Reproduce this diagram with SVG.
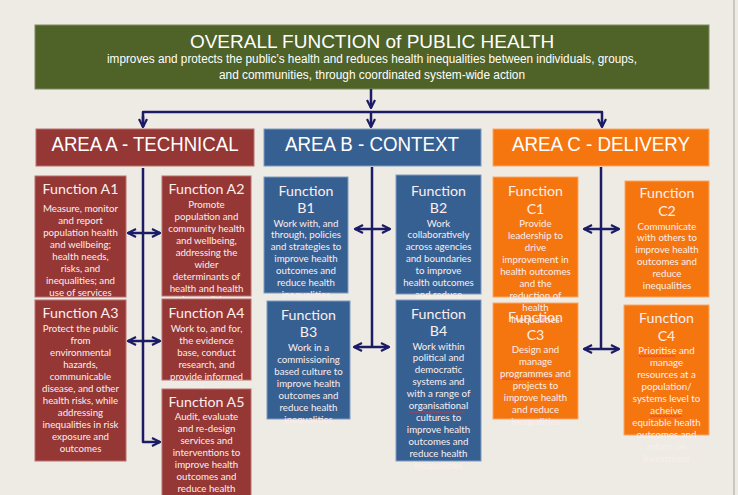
<svg xmlns="http://www.w3.org/2000/svg" width="738" height="495" viewBox="0 0 738 495">
  <defs>
    <marker id="chev" viewBox="0 0 10 10" refX="9" refY="5" markerWidth="4" markerHeight="4" orient="auto-start-reverse" markerUnits="strokeWidth">
      <path d="M1,1 L9,5 L1,9" fill="none" stroke="#1b1b66" stroke-width="2.2" stroke-linejoin="miter"/>
    </marker>
    <style>
      .bg { fill: #eeebe4; }
      .red { fill: #953735; stroke: #b8706e; stroke-width: 1; }
      .blue { fill: #376092; stroke: #7f9cc0; stroke-width: 1; }
      .orange { fill: #f5760f; stroke: #f9a867; stroke-width: 1; }
      .green { fill: #4f6228; stroke: #7d8c5e; stroke-width: 1; }
      .head { font-family: "Liberation Sans Narrow", "Liberation Sans", Arial, sans-serif; fill: #ffffff; text-anchor: middle; }
      .ftitle { font-family: Lato, "Open Sans", sans-serif; font-size: 14.2px; fill: #fbeeee; text-anchor: middle; }
      .body { font-family: Lato, "Open Sans", sans-serif; font-size: 9.7px; fill: #fbeeee; text-anchor: middle; }
      .conn { fill: none; stroke: #1b1b66; stroke-width: 2.5; stroke-linejoin: round; }
      .spell { fill: none; stroke: #e03030; stroke-width: 0.8; }
    </style>
  </defs>

  <rect class="bg" x="0" y="0" width="738" height="495"/>
  <line x1="734" y1="0" x2="734" y2="495" stroke="#c9c7c2" stroke-width="2"/>

  <!-- top banner -->
  <g id="overall">
    <rect class="green" x="35" y="25" width="674" height="64"/>
    <text class="head" x="372" y="48" font-size="19">OVERALL FUNCTION  of PUBLIC HEALTH</text>
    <text class="head" x="372" y="63" font-size="12.5" textLength="530" lengthAdjust="spacingAndGlyphs">improves and protects the public’s health and reduces health  inequalities between individuals, groups,</text>
    <text class="head" x="372" y="79" font-size="12.5" textLength="306" lengthAdjust="spacingAndGlyphs">and communities, through  coordinated system-wide action</text>
  </g>

  <!-- area headers -->
  <g id="area-a">
    <rect class="red" x="36" y="129" width="218" height="37"/>
    <text class="head" x="145" y="151" font-size="20" textLength="187" lengthAdjust="spacingAndGlyphs">AREA A - TECHNICAL</text>
  </g>
  <g id="area-b">
    <rect class="blue" x="264" y="129" width="217" height="37"/>
    <text class="head" x="372" y="151" font-size="20" textLength="174" lengthAdjust="spacingAndGlyphs">AREA B - CONTEXT</text>
  </g>
  <g id="area-c">
    <rect class="orange" x="493" y="129" width="216" height="37"/>
    <text class="head" x="601" y="151" font-size="20" textLength="178" lengthAdjust="spacingAndGlyphs">AREA C - DELIVERY</text>
  </g>

  <!-- Area A functions -->
  <g id="func-a1">
    <rect class="red" x="35" y="176" width="91" height="121"/>
    <text class="ftitle" x="80.5" y="194">Function A1</text>
    <text class="body" x="80.5" y="211.5">Measure, monitor</text>
    <text class="body" x="80.5" y="223.5">and report</text>
    <text class="body" x="80.5" y="235.5">population health</text>
    <text class="body" x="80.5" y="247.5">and wellbeing;</text>
    <text class="body" x="80.5" y="259.5">health needs,</text>
    <text class="body" x="80.5" y="271.5">risks, and</text>
    <text class="body" x="80.5" y="283.5">inequalities; and</text>
    <text class="body" x="80.5" y="295.5">use of services</text>
  </g>
  <g id="func-a2">
    <rect class="red" x="162" y="176" width="89" height="120"/>
    <text class="ftitle" x="206.5" y="194">Function A2</text>
    <text class="body" x="206.5" y="207.5">Promote</text>
    <text class="body" x="206.5" y="219.5">population and</text>
    <text class="body" x="206.5" y="231.5">community health</text>
    <text class="body" x="206.5" y="243.5">and wellbeing,</text>
    <text class="body" x="206.5" y="255.5">addressing the</text>
    <text class="body" x="206.5" y="267.5">wider</text>
    <text class="body" x="206.5" y="279.5">determinants of</text>
    <text class="body" x="206.5" y="291.5">health and health</text>
    <text class="body" x="206.5" y="303">inequalities</text>
  </g>
  <g id="func-a3">
    <rect class="red" x="35" y="300" width="91" height="161"/>
    <text class="ftitle" x="80.5" y="318">Function A3</text>
    <text class="body" x="80.5" y="331.5">Protect the public</text>
    <text class="body" x="80.5" y="343.5">from</text>
    <text class="body" x="80.5" y="355.5">environmental</text>
    <text class="body" x="80.5" y="367.5">hazards,</text>
    <text class="body" x="80.5" y="379.5">communicable</text>
    <text class="body" x="80.5" y="391.5">disease, and other</text>
    <text class="body" x="80.5" y="403.5">health risks, while</text>
    <text class="body" x="80.5" y="415.5">addressing</text>
    <text class="body" x="80.5" y="427.5">inequalities in risk</text>
    <text class="body" x="80.5" y="439.5">exposure and</text>
    <text class="body" x="80.5" y="451.5">outcomes</text>
  </g>
  <g id="func-a4">
    <rect class="red" x="162" y="299" width="89" height="81"/>
    <text class="ftitle" x="206.5" y="318">Function A4</text>
    <text class="body" x="206.5" y="331.5">Work to,  and for,</text>
    <text class="body" x="206.5" y="343.5">the evidence</text>
    <text class="body" x="206.5" y="355.5">base, conduct</text>
    <text class="body" x="206.5" y="367.5">research, and</text>
    <text class="body" x="206.5" y="379.5">provide informed</text>
    <text class="body" x="206.5" y="391.5">advice</text>
  </g>
  <g id="func-a5">
    <rect class="red" x="162" y="389" width="89" height="110"/>
    <text class="ftitle" x="206.5" y="407">Function A5</text>
    <text class="body" x="206.5" y="419.5">Audit, evaluate</text>
    <text class="body" x="206.5" y="431.5">and re-design</text>
    <text class="body" x="206.5" y="443.5">services and</text>
    <text class="body" x="206.5" y="455.5">interventions to</text>
    <text class="body" x="206.5" y="467.5">improve health</text>
    <text class="body" x="206.5" y="479.5">outcomes and</text>
    <text class="body" x="206.5" y="491.5">reduce health</text>
  </g>

  <!-- Area B functions -->
  <g id="func-b1">
    <rect class="blue" x="264" y="177" width="84" height="116"/>
    <text class="ftitle" x="306" y="195.5">Function</text>
    <text class="ftitle" x="306" y="212.5">B1</text>
    <text class="body" x="306" y="226.5">Work with, and</text>
    <text class="body" x="306" y="238.4">through, policies</text>
    <text class="body" x="306" y="250.3">and strategies to</text>
    <text class="body" x="306" y="262.2">improve health</text>
    <text class="body" x="306" y="274.1">outcomes and</text>
    <text class="body" x="306" y="286">reduce health</text>
    <text class="body" x="306" y="297.9">inequalities</text>
  </g>
  <g id="func-b2">
    <rect class="blue" x="396" y="175" width="85" height="119"/>
    <text class="ftitle" x="438.5" y="195.5">Function</text>
    <text class="ftitle" x="438.5" y="212.5">B2</text>
    <text class="body" x="438.5" y="226.5">Work</text>
    <text class="body" x="438.5" y="238.4">collaboratively</text>
    <text class="body" x="438.5" y="250.3">across agencies</text>
    <text class="body" x="438.5" y="262.2">and boundaries</text>
    <text class="body" x="438.5" y="274.1">to improve</text>
    <text class="body" x="438.5" y="286">health outcomes</text>
    <text class="body" x="438.5" y="297.9">and reduce</text>
  </g>
  <g id="func-b3">
    <rect class="blue" x="267" y="301" width="83" height="118"/>
    <text class="ftitle" x="308.5" y="319.5">Function</text>
    <text class="ftitle" x="308.5" y="337">B3</text>
    <text class="body" x="308.5" y="350.5">Work in a</text>
    <text class="body" x="308.5" y="362.5">commissioning</text>
    <text class="body" x="308.5" y="374.5">based culture to</text>
    <text class="body" x="308.5" y="386.5">improve health</text>
    <text class="body" x="308.5" y="398.5">outcomes and</text>
    <text class="body" x="308.5" y="410.5">reduce health</text>
    <text class="body" x="308.5" y="422.5">inequalities</text>
  </g>
  <g id="func-b4">
    <rect class="blue" x="396" y="300" width="85" height="161"/>
    <text class="ftitle" x="438.5" y="318.5">Function</text>
    <text class="ftitle" x="438.5" y="335.5">B4</text>
    <text class="body" x="438.5" y="349.5">Work within</text>
    <text class="body" x="438.5" y="361.4">political and</text>
    <text class="body" x="438.5" y="373.3">democratic</text>
    <text class="body" x="438.5" y="385.2">systems and</text>
    <text class="body" x="438.5" y="397.1">with a range of</text>
    <text class="body" x="438.5" y="409">organisational</text>
    <path class="spell" d="M409,411.5 l1.5,1.2 l1.5,-1.2 l1.5,1.2 l1.5,-1.2 l1.5,1.2 l1.5,-1.2 l1.5,1.2 l1.5,-1.2 l1.5,1.2 l1.5,-1.2 l1.5,1.2 l1.5,-1.2 l1.5,1.2 l1.5,-1.2 l1.5,1.2 l1.5,-1.2 l1.5,1.2 l1.5,-1.2 l1.5,1.2 l1.5,-1.2 l1.5,1.2 l1.5,-1.2 l1.5,1.2 l1.5,-1.2 l1.5,1.2 l1.5,-1.2 l1.5,1.2 l1.5,-1.2 l1.5,1.2 l1.5,-1.2 l1.5,1.2 l1.5,-1.2 l1.5,1.2 l1.5,-1.2 l1.5,1.2 l1.5,-1.2 l1.5,1.2"/>
    <text class="body" x="438.5" y="420.9">cultures to</text>
    <text class="body" x="438.5" y="432.8">improve health</text>
    <text class="body" x="438.5" y="444.7">outcomes and</text>
    <text class="body" x="438.5" y="456.6">reduce health</text>
    <text class="body" x="438.5" y="468.5">inequalities</text>
  </g>

  <!-- Area C functions -->
  <g id="func-c3">
    <rect class="orange" x="493" y="303" width="85" height="116"/>
    <text class="ftitle" x="535.5" y="322">Function</text>
    <text class="ftitle" x="535.5" y="339.5">C3</text>
    <text class="body" x="535.5" y="352.5">Design and</text>
    <text class="body" x="535.5" y="364.5">manage</text>
    <text class="body" x="535.5" y="376.5">programmes and</text>
    <path class="spell" d="M502,378.5 l1.5,1.2 l1.5,-1.2 l1.5,1.2 l1.5,-1.2 l1.5,1.2 l1.5,-1.2 l1.5,1.2 l1.5,-1.2 l1.5,1.2 l1.5,-1.2 l1.5,1.2 l1.5,-1.2 l1.5,1.2 l1.5,-1.2 l1.5,1.2 l1.5,-1.2 l1.5,1.2 l1.5,-1.2 l1.5,1.2 l1.5,-1.2 l1.5,1.2 l1.5,-1.2 l1.5,1.2 l1.5,-1.2 l1.5,1.2 l1.5,-1.2 l1.5,1.2 l1.5,-1.2 l1.5,1.2 l1.5,-1.2 l1.5,1.2 l1.5,-1.2 l1.5,1.2 l1.5,-1.2"/>
    <text class="body" x="535.5" y="388.5">projects to</text>
    <text class="body" x="535.5" y="400.5">improve health</text>
    <text class="body" x="535.5" y="412.5">and reduce</text>
    <text class="body" x="535.5" y="424.5">inequalities</text>
  </g>
  <g id="func-c1">
    <rect class="orange" x="493" y="177" width="85" height="120"/>
    <text class="ftitle" x="535.5" y="196">Function</text>
    <text class="ftitle" x="535.5" y="213.5">C1</text>
    <text class="body" x="535.5" y="226.5">Provide</text>
    <text class="body" x="535.5" y="238.5">leadership to</text>
    <text class="body" x="535.5" y="250.5">drive</text>
    <text class="body" x="535.5" y="262.5">improvement in</text>
    <text class="body" x="535.5" y="274.5">health outcomes</text>
    <text class="body" x="535.5" y="286.5">and the</text>
    <text class="body" x="535.5" y="298.5">reduction of</text>
    <text class="body" x="535.5" y="310.5">health</text>
    <text class="body" x="535.5" y="322.5">inequalities</text>
  </g>
  <g id="func-c2">
    <rect class="orange" x="625" y="181" width="84" height="116"/>
    <text class="ftitle" x="667" y="198">Function</text>
    <text class="ftitle" x="667" y="215.5">C2</text>
    <text class="body" x="667" y="229.5">Communicate</text>
    <text class="body" x="667" y="241.3">with others to</text>
    <text class="body" x="667" y="253.1">improve health</text>
    <text class="body" x="667" y="264.9">outcomes and</text>
    <text class="body" x="667" y="276.7">reduce</text>
    <text class="body" x="667" y="288.5">inequalities</text>
  </g>
  <g id="func-c4">
    <rect class="orange" x="624" y="305" width="85" height="130"/>
    <text class="ftitle" x="666.5" y="323">Function</text>
    <text class="ftitle" x="666.5" y="340.5">C4</text>
    <text class="body" x="666.5" y="353.5">Prioritise and</text>
    <path class="spell" d="M639,355.5 l1.5,1.2 l1.5,-1.2 l1.5,1.2 l1.5,-1.2 l1.5,1.2 l1.5,-1.2 l1.5,1.2 l1.5,-1.2 l1.5,1.2 l1.5,-1.2 l1.5,1.2 l1.5,-1.2 l1.5,1.2 l1.5,-1.2 l1.5,1.2 l1.5,-1.2 l1.5,1.2 l1.5,-1.2 l1.5,1.2 l1.5,-1.2 l1.5,1.2 l1.5,-1.2 l1.5,1.2 l1.5,-1.2"/>
    <text class="body" x="666.5" y="365.5">manage</text>
    <text class="body" x="666.5" y="377.5">resources at a</text>
    <text class="body" x="666.5" y="389.5">population/</text>
    <text class="body" x="666.5" y="401.5">systems level to</text>
    <text class="body" x="666.5" y="413.5">acheive</text>
    <path class="spell" d="M650,415.5 l1.5,1.2 l1.5,-1.2 l1.5,1.2 l1.5,-1.2 l1.5,1.2 l1.5,-1.2 l1.5,1.2 l1.5,-1.2 l1.5,1.2 l1.5,-1.2 l1.5,1.2 l1.5,-1.2 l1.5,1.2 l1.5,-1.2 l1.5,1.2 l1.5,-1.2 l1.5,1.2 l1.5,-1.2 l1.5,1.2 l1.5,-1.2 l1.5,1.2"/>
    <text class="body" x="666.5" y="425.5">equitable health</text>
    <text class="body" x="666.5" y="437.5">outcomes and</text>
    <text class="body" x="666.5" y="449.5">return on</text>
    <text class="body" x="666.5" y="461.5">investment</text>
  </g>

  <!-- connectors -->
  <g id="connectors">
    <path class="conn" d="M371,89 V108" marker-end="url(#chev)"/>
    <path class="conn" d="M143,127 V112 H602 V127" marker-end="url(#chev)"/>
    <path class="conn" d="M143,116 V127" marker-end="url(#chev)"/>
    <path class="conn" d="M371,112 V127" marker-end="url(#chev)"/>
    <path class="conn" d="M143,168 V442 H160" marker-end="url(#chev)"/>
    <path class="conn" d="M128,233 H160" marker-start="url(#chev)" marker-end="url(#chev)"/>
    <path class="conn" d="M128,341 H160" marker-start="url(#chev)" marker-end="url(#chev)"/>
    <path class="conn" d="M372,167 V347"/>
    <path class="conn" d="M355,229 H390" marker-start="url(#chev)" marker-end="url(#chev)"/>
    <path class="conn" d="M354,347 H389" marker-start="url(#chev)" marker-end="url(#chev)"/>
    <path class="conn" d="M601,167 V349"/>
    <path class="conn" d="M584,229 H619" marker-start="url(#chev)" marker-end="url(#chev)"/>
    <path class="conn" d="M584,349 H619" marker-start="url(#chev)" marker-end="url(#chev)"/>
  </g>
</svg>
